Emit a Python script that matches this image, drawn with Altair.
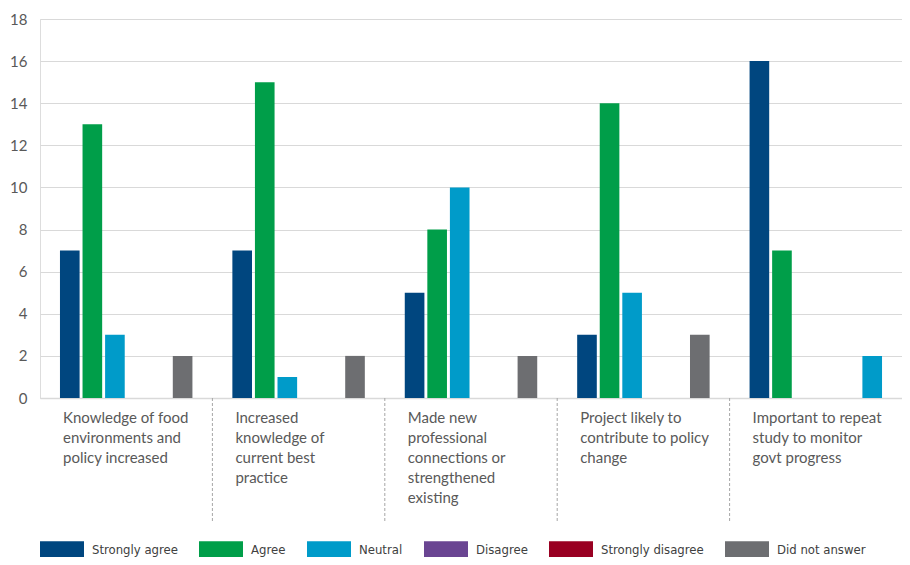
import altair as alt
import pandas as pd

categories = [
    "Knowledge of food|environments and|policy increased",
    "Increased|knowledge of|current best|practice",
    "Made new|professional|connections or|strengthened|existing",
    "Project likely to|contribute to policy|change",
    "Important to repeat|study to monitor|govt progress",
]
series = ["Strongly agree", "Agree", "Neutral", "Disagree", "Strongly disagree", "Did not answer"]
colors = ["#00467F", "#009E49", "#009BC9", "#6A4592", "#990022", "#6D6E71"]

strongly_agree = [7, 7, 5, 3, 16]
agree = [13, 15, 8, 14, 7]
neutral = [3, 1, 10, 5, 0]
disagree = [0, 0, 0, 0, 0]
strongly_disagree = [0, 0, 0, 0, 0]
did_not_answer = [2, 2, 2, 3, 2]

# in the reference, the last group's "Did not answer" bar is drawn in the Neutral colour
colour_override = {(4, "Did not answer"): "Neutral"}

values = [strongly_agree, agree, neutral, disagree, strongly_disagree, did_not_answer]
rows = []
for si, s in enumerate(series):
    for ci, c in enumerate(categories):
        rows.append({
            "category": c,
            "series": s,
            "colour": colour_override.get((ci, s), s),
            "value": values[si][ci],
        })
df = pd.DataFrame(rows)
sep_df = pd.DataFrame({"category": categories[1:]})

FONT = "Lato"
GRAY = "#595959"
W = 862
H = 379

x_scale = alt.Scale(domain=categories, paddingInner=0, paddingOuter=0)

bars = alt.Chart(df).mark_bar().encode(
    x=alt.X(
        "category:N",
        scale=x_scale,
        axis=alt.Axis(
            title=None,
            labelAngle=0,
            labelAlign="left",
            labelBaseline="top",
            labelOffset=23 - W / 10,
            labelPadding=12,
            labelExpr="split(datum.label, '|')",
            labelLineHeight=20,
            labelFontSize=15,
            labelFont=FONT,
            labelColor=GRAY,
            labelLimit=400,
            ticks=False,
            grid=False,
            domainColor="#d9d9d9",
            domainWidth=1.5,
        ),
    ),
    xOffset=alt.XOffset(
        "series:N",
        scale=alt.Scale(domain=series, paddingInner=0.13, paddingOuter=0.885),
    ),
    y=alt.Y(
        "value:Q",
        scale=alt.Scale(domain=[0, 18]),
        axis=alt.Axis(
            title=None,
            values=list(range(0, 19, 2)),
            domain=False,
            ticks=False,
            labelPadding=13,
            labelFontSize=15,
            labelFont=FONT,
            labelColor=GRAY,
            gridColor="#d9d9d9",
            gridWidth=1.2,
        ),
    ),
    color=alt.Color(
        "colour:N",
        scale=alt.Scale(domain=series, range=colors),
        legend=alt.Legend(
            title=None,
            orient="none",
            legendX=11,
            legendY=520,
            direction="horizontal",
            columns=6,
            columnPadding=21,
            symbolType="M-2,-0.8H2V0.8H-2Z",
            symbolSize=484,
            symbolStrokeWidth=0,
            labelFont="'DejaVu Sans Condensed', 'Liberation Sans', sans-serif",
            labelFontSize=13,
            labelColor="#404040",
            labelOffset=19,
            labelLimit=300,
            padding=0,
        ),
    ),
)

seps = alt.Chart(sep_df).mark_rule(color="#a6a6a6", strokeDash=[3, 2], strokeWidth=1).encode(
    x=alt.X("category:N", bandPosition=0, scale=x_scale),
    y=alt.value(H),
    y2=alt.value(H + 124),
)

chart = alt.layer(bars, seps).properties(
    width=W,
    height=H,
    padding={"left": 32, "top": 11, "right": 0, "bottom": 159},
    autosize=alt.AutoSizeParams(type="none"),
).configure_view(stroke=None).configure(background="white")

chart.save("out.html", embed_options={"renderer": "svg", "actions": False})
